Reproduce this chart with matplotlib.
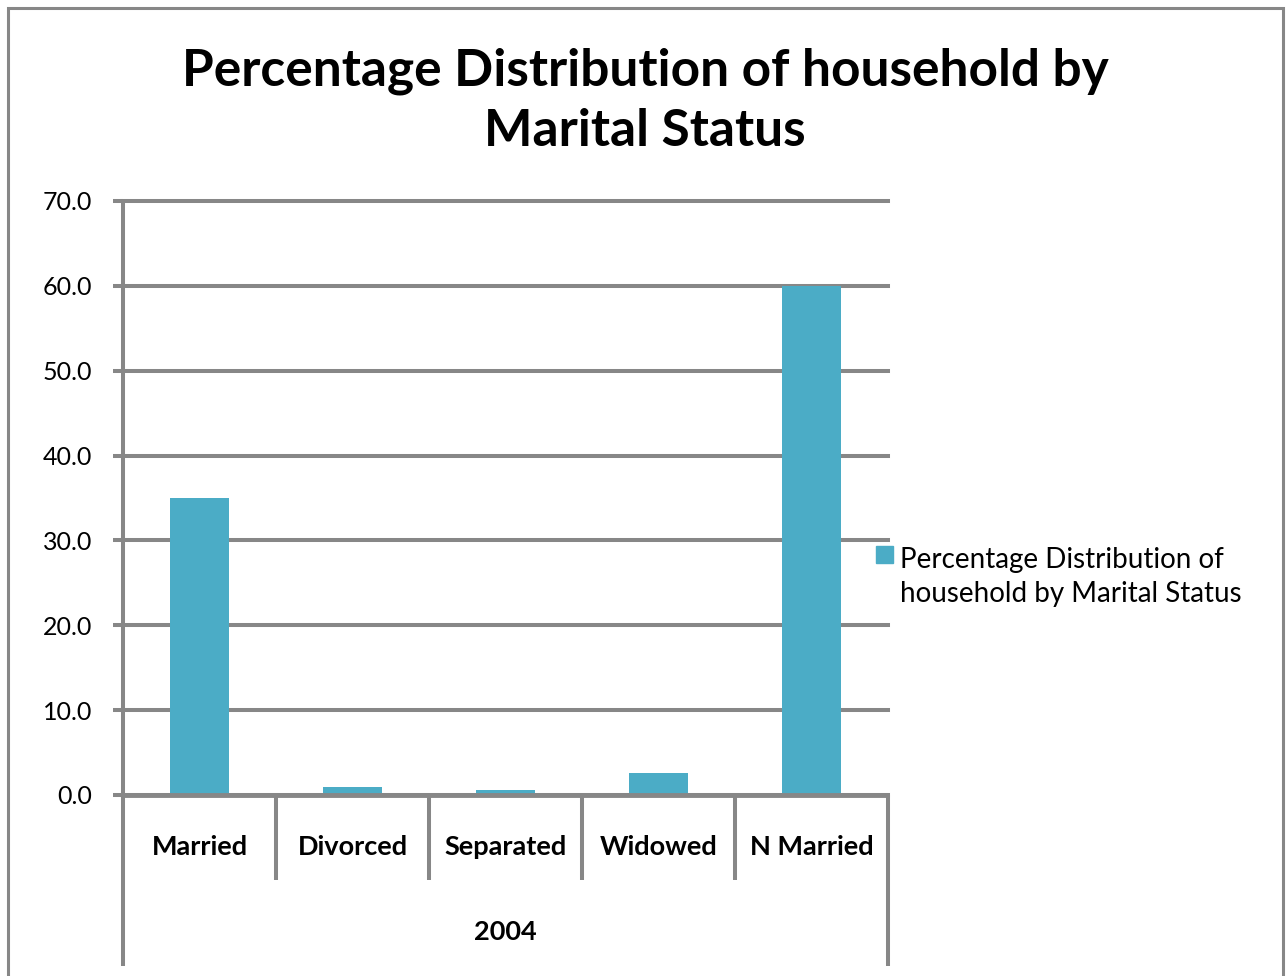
import numpy as np
import matplotlib.pyplot as plt
from matplotlib.patches import Rectangle

categories = ["Married", "Divorced", "Separated", "Widowed", "N Married"]
values = [35.0, 0.9, 0.6, 2.6, 60.0]
group_label = "2004"
title = "Percentage Distribution of household by\nMarital Status"
series_label = "Percentage Distribution of\nhousehold by Marital Status"
y_ticks = [0, 10, 20, 30, 40, 50, 60, 70]

BAR_COLOR = "#4BACC6"
GRAY = "#878787"
W, H = 1286, 976
LW = 2.9

plt.rcParams["font.family"] = ["Lato", "DejaVu Sans"]

fig = plt.figure(figsize=(W / 100, H / 100), dpi=100)
ax = fig.add_axes([123 / W, 1 - 795 / H, (888 - 123) / W, (795 - 201) / H])

x = np.arange(len(categories))
ax.bar(x, values, width=0.39, color=BAR_COLOR, zorder=2)

ax.set_xlim(-0.5, len(categories) - 0.5)
ax.set_ylim(0, 70)
ax.set_yticks(y_ticks)
ax.set_yticklabels([f"{v:.1f}" for v in y_ticks], fontsize=18)
ax.tick_params(axis="y", length=7, width=LW, color=GRAY, pad=15)
ax.set_xticks([])
ax.grid(axis="y", color=GRAY, linewidth=LW, zorder=0)
ax.set_axisbelow(True)
for line in ax.get_ygridlines():
    line.set_clip_on(False)
for side in ["top", "right", "bottom", "left"]:
    ax.spines[side].set_visible(False)

trans = ax.get_xaxis_transform()
# multi-level category axis lines
ax.plot([-0.5, len(categories) - 0.5], [0, 0], color=GRAY, lw=LW + 0.6, transform=trans,
        clip_on=False, zorder=3, solid_capstyle="butt")
ax.plot([-0.5, -0.5], [1, -0.288], color=GRAY, lw=LW, transform=trans,
        clip_on=False, zorder=3, solid_capstyle="butt")
ax.plot([len(categories) - 0.5] * 2, [0, -0.288], color=GRAY, lw=LW, transform=trans,
        clip_on=False, zorder=3, solid_capstyle="butt")
for b in np.arange(0.5, len(categories) - 1, 1.0):
    ax.plot([b, b], [0, -0.143], color=GRAY, lw=LW, transform=trans,
            clip_on=False, zorder=3, solid_capstyle="butt")

for xi, name in zip(x, categories):
    ax.text(xi, -0.087, name, transform=trans, ha="center", va="center",
            fontsize=19.5, fontweight="bold")
ax.text((len(categories) - 1) / 2, -0.231, group_label, transform=trans,
        ha="center", va="center", fontsize=19.5, fontweight="bold")

fig.text(645 / W, 1 - 101 / H, title, ha="center", va="center",
         fontsize=37, fontweight="bold", linespacing=1.35)

# legend
fig.patches.append(Rectangle((876 / W, 1 - 563 / H), 17 / W, 17 / H,
                             transform=fig.transFigure, color=BAR_COLOR))
fig.text(900 / W, 1 - 577 / H, series_label, ha="left", va="center",
         fontsize=20, linespacing=1.4)

# chart border
fig.patches.append(Rectangle((8 / W, -0.05), (1283 - 8) / W, 1 - 8 / H + 0.05,
                             transform=fig.transFigure, fill=False,
                             edgecolor=GRAY, lw=2.2))

fig.savefig("out.png", dpi=100)
